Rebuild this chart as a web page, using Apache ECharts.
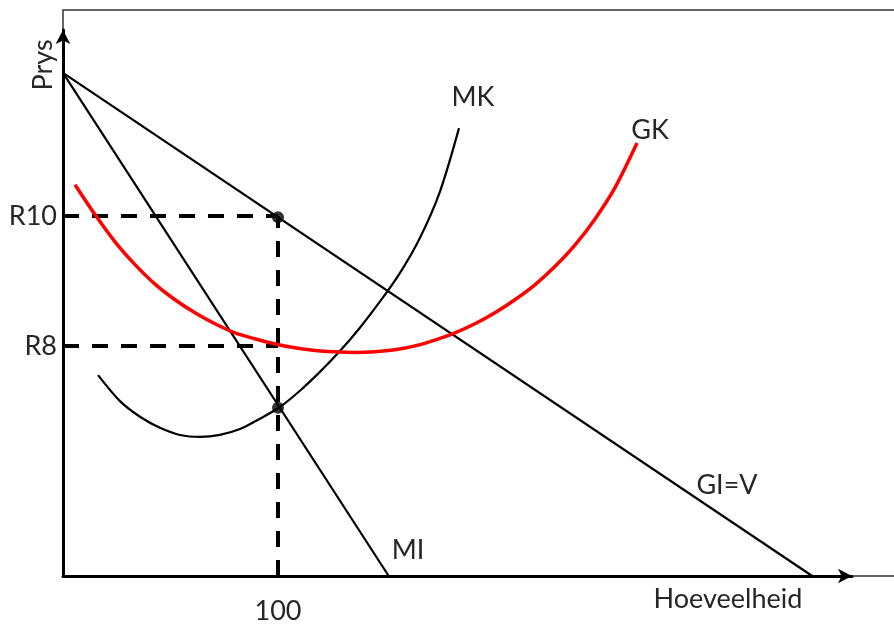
<!DOCTYPE html>
<html>
<head>
<meta charset="utf-8">
<script src="https://cdn.jsdelivr.net/npm/echarts@6/dist/echarts.min.js"></script>
<style>
  html, body { margin: 0; padding: 0; background: #fff; }
  #chart { width: 894px; height: 625px; }
</style>
</head>
<body>
<div id="chart"></div>
<script>
// axis ranges (quantity, price units)
const qMax = 367;
const pMin = 4.46;
const pMax = 12.86;

// tick labels
const qTicks = [100];
const pTicks = [8, 10];

// GI=V (demand) and MI lines: [Q, P]
const giLine = [[0, 12.2], [348.5, 4.46]];
const miLine = [[0, 12.2], [151.5, 4.46]];

// MK (marginal cost) curve
const mkCurve = [
  [16.3, 7.55], [26.5, 7.15], [35.8, 6.91], [45.1, 6.74], [54.4, 6.63],
  [63.7, 6.6], [73, 6.63], [82.3, 6.72], [91.6, 6.88], [100.9, 7.06],
  [110.2, 7.31], [119.5, 7.6], [128.8, 7.92], [138.1, 8.28], [147.4, 8.68],
  [156.7, 9.12], [166, 9.66], [175.3, 10.37], [184.2, 11.35]
];

// GK (average cost) curve
const gkCurve = [
  [5.6, 10.48], [14.9, 10.02], [24.2, 9.6], [33.5, 9.25], [42.8, 8.95],
  [52.1, 8.71], [61.4, 8.51], [70.7, 8.34], [80, 8.2], [89.3, 8.11],
  [98.6, 8.03], [107.9, 7.97], [117.2, 7.93], [126.5, 7.91], [135.8, 7.9],
  [145.1, 7.91], [154.4, 7.94], [163.7, 8.0], [173, 8.09], [182.3, 8.2],
  [191.6, 8.34], [200.9, 8.51], [210.2, 8.71], [219.5, 8.94], [228.8, 9.22],
  [238.1, 9.55], [247.4, 9.95], [256.7, 10.43], [267, 11.12]
];

// equilibrium points
const dots = [[100, 9.98], [100, 7.05]];

// dashed guides
const guideV = [[100, pMin], [100, 10]];
const guideR10 = [[0, 10], [100, 10]];
const guideR8 = [[0, 8], [100, 8]];

const font = 'Lato, "Open Sans", sans-serif';
const txt = '#262626';

const chart = echarts.init(document.getElementById('chart'));

function lineSeries(data, color, width, type, smooth) {
  return {
    type: 'line',
    data: data,
    smooth: smooth ? 0.3 : false,
    symbol: 'none',
    silent: true,
    lineStyle: { color: color, width: width, type: type || 'solid' },
    animation: false
  };
}

function label(text, x, y, rot) {
  return {
    type: 'text',
    x: x,
    y: y,
    rotation: rot || 0,
    style: {
      text: text,
      font: '27px ' + font,
      fill: txt,
      align: 'center',
      verticalAlign: 'middle'
    }
  };
}

chart.setOption({
  animation: false,
  grid: { left: 63, top: 30, right: 42, bottom: 49 },
  xAxis: {
    type: 'value',
    min: 0,
    max: qMax,
    splitLine: { show: false },
    axisTick: { show: false },
    axisLine: {
      lineStyle: { color: '#000', width: 3 },
      symbol: ['none', 'arrow'],
      symbolSize: [11, 14]
    },
    axisLabel: {
      customValues: qTicks,
      margin: 22,
      color: txt,
      fontSize: 27,
      fontFamily: font
    }
  },
  yAxis: {
    type: 'value',
    min: pMin,
    max: pMax,
    splitLine: { show: false },
    axisTick: { show: false },
    axisLine: {
      lineStyle: { color: '#000', width: 3 },
      symbol: ['none', 'arrow'],
      symbolSize: [11, 14]
    },
    axisLabel: {
      customValues: pTicks,
      margin: 6,
      color: txt,
      fontSize: 27,
      fontFamily: font,
      formatter: (v) => 'R' + v
    }
  },
  graphic: [
    {
      type: 'rect',
      z: -10,
      shape: { x: 63, y: 10, width: 900, height: 566 },
      style: { fill: 'none', stroke: '#333', lineWidth: 1.5 }
    },
    label('MK', 473, 97),
    label('GK', 650, 130),
    label('GI=V', 727, 485),
    label('MI', 408, 550),
    label('Hoeveelheid', 728, 599),
    label('Prys', 43, 65, Math.PI / 2)
  ],
  series: [
    lineSeries(guideV, '#000', 4, [16, 13]),
    lineSeries(guideR10, '#000', 4, [16, 13]),
    lineSeries(guideR8, '#000', 4, [16, 13]),
    lineSeries(giLine, '#000', 2.2),
    lineSeries(miLine, '#000', 2.2),
    lineSeries(mkCurve, '#000', 2.2, 'solid', true),
    lineSeries(gkCurve, '#ff0000', 3.5, 'solid', true),
    {
      type: 'scatter',
      data: dots,
      symbolSize: 12,
      itemStyle: { color: '#000' },
      silent: true
    }
  ]
});
</script>
</body>
</html>
